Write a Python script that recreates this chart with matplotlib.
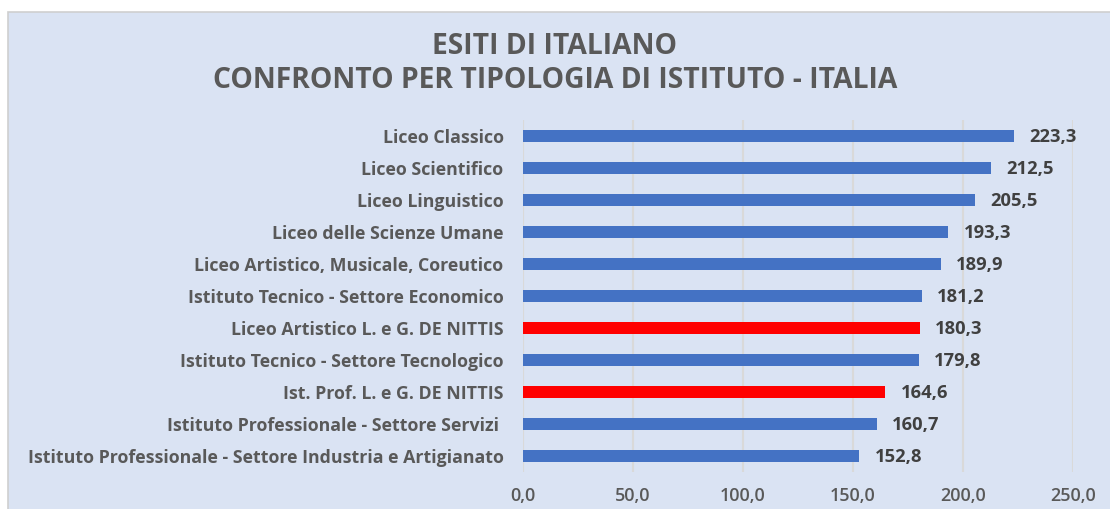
import matplotlib
matplotlib.use("Agg")
import matplotlib.pyplot as plt
from matplotlib.patches import Rectangle

# data, top to bottom as in the chart
categories = [
    "Liceo Classico",
    "Liceo Scientifico",
    "Liceo Linguistico",
    "Liceo delle Scienze Umane",
    "Liceo Artistico, Musicale, Coreutico",
    "Istituto Tecnico - Settore Economico",
    "Liceo Artistico L. e G. DE NITTIS",
    "Istituto Tecnico - Settore Tecnologico",
    "Ist. Prof. L. e G. DE NITTIS",
    "Istituto Professionale - Settore Servizi ",
    "Istituto Professionale - Settore Industria e Artigianato",
]
values = [223.3, 212.5, 205.5, 193.3, 189.9, 181.2, 180.3, 179.8, 164.6, 160.7, 152.8]
highlight = ["DE NITTIS" in c for c in categories]
xticks = [0, 50, 100, 150, 200, 250]

BG = "#DAE3F3"
BLUE = "#4472C4"
RED = "#FF0000"
GREY = "#595959"
DARK = "#404040"
FONT = "Open Sans"

fig = plt.figure(figsize=(11.10, 5.09), dpi=100)
fig.patch.set_facecolor("white")
bg = Rectangle((8 / 1110, -0.01), 1.02, 1 - 12 / 509 + 0.01,
               transform=fig.transFigure, facecolor=BG,
               edgecolor="#CFCFCF", linewidth=1.2, zorder=-10)
fig.patches.append(bg)

ax = fig.add_axes([523 / 1110, 1 - 472 / 509, 550 / 1110, 352 / 509])
ax.set_facecolor("none")
ax.set_zorder(1)

ypos = list(range(len(categories)))
colors = [RED if h else BLUE for h in highlight]
ax.barh(ypos, values, height=0.36, color=colors, zorder=3)

for y, v in zip(ypos, values):
    ax.text(v + 7, y + 0.04, f"{v:.1f}".replace(".", ","), va="center",
            ha="left", fontsize=13.2, fontweight="bold", color=DARK,
            family=FONT)

ax.set_xlim(0, 250)
ax.set_ylim(len(categories) - 0.5, -0.5)
ax.set_xticks(xticks)
ax.set_xticklabels([f"{t:.1f}".replace(".", ",") for t in xticks])
ax.set_yticks(ypos)
ax.set_yticklabels(categories)
ax.tick_params(axis="both", length=0, colors=GREY)
ax.tick_params(axis="x", pad=11, labelsize=13)
ax.tick_params(axis="y", pad=14, labelsize=12.75)
for lab in ax.get_xticklabels():
    lab.set_family(FONT)
    lab.set_fontweight("semibold")
for lab in ax.get_yticklabels():
    lab.set_family(FONT)
    lab.set_fontweight("bold")
ax.grid(axis="x", color="#D9D9D9", linewidth=1.5, zorder=0)
for s in ax.spines.values():
    s.set_visible(False)

fig.text(0.5, 1 - 47 / 509, "ESITI DI ITALIANO", ha="center", va="center",
         fontsize=20.3, fontweight="bold", color=GREY, family=FONT)
fig.text(0.5, 1 - 80 / 509, "CONFRONTO PER TIPOLOGIA DI ISTITUTO - ITALIA",
         ha="center", va="center", fontsize=20.3, fontweight="bold",
         color=GREY, family=FONT)

fig.savefig("out.png", dpi=100)
